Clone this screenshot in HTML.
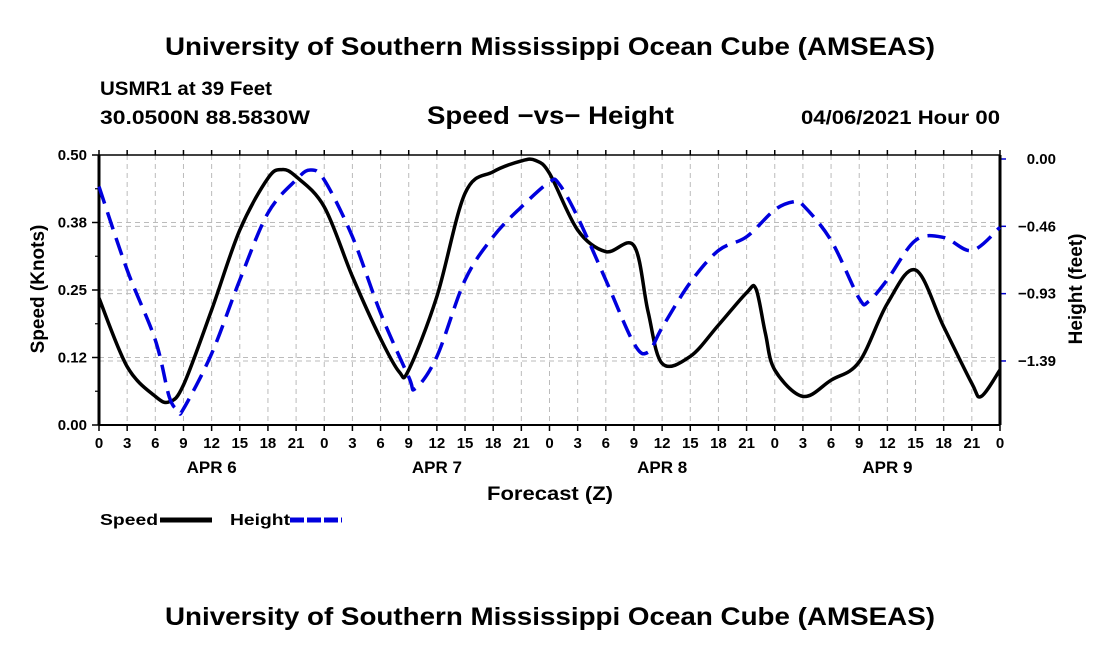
<!DOCTYPE html>
<html><head><meta charset="utf-8"><style>
body{margin:0;background:#fff;}
svg{display:block;font-family:"Liberation Sans",Arial,sans-serif;font-weight:bold;}
</style></head><body>
<svg id="c" width="1100" height="650" viewBox="0 0 1100 650">
<text x="165" y="55" font-size="25" textLength="770" lengthAdjust="spacingAndGlyphs">University of Southern Mississippi Ocean Cube (AMSEAS)</text>
<text x="100" y="95" font-size="19" textLength="172" lengthAdjust="spacingAndGlyphs">USMR1 at 39 Feet</text>
<text x="100" y="124" font-size="19" textLength="210" lengthAdjust="spacingAndGlyphs">30.0500N  88.5830W</text>
<text x="427" y="124" font-size="25" textLength="247" lengthAdjust="spacingAndGlyphs">Speed −vs− Height</text>
<text x="801" y="124" font-size="19" textLength="199" lengthAdjust="spacingAndGlyphs">04/06/2021 Hour 00</text>
<g id="grid"></g><g id="axes"></g><g id="series"></g>
<text x="487" y="500" font-size="19" textLength="126" lengthAdjust="spacingAndGlyphs">Forecast (Z)</text>
<text transform="translate(44,289) rotate(-90)" text-anchor="middle" font-size="19">Speed (Knots)</text>
<text transform="translate(1082,289) rotate(-90)" text-anchor="middle" font-size="19">Height (feet)</text>
<g><text x="100" y="525" font-size="16" textLength="58" lengthAdjust="spacingAndGlyphs">Speed</text><line x1="160" y1="520" x2="212" y2="520" stroke="#000" stroke-width="5"/></g>
<g><text x="230" y="525" font-size="16" textLength="60" lengthAdjust="spacingAndGlyphs">Height</text><line x1="290" y1="520" x2="342" y2="520" stroke="#0000dd" stroke-width="5" stroke-dasharray="14,3"/></g>
<text x="165" y="625" font-size="25" textLength="770" lengthAdjust="spacingAndGlyphs">University of Southern Mississippi Ocean Cube (AMSEAS)</text>
</svg>
<script>
const speedHours=[0,3,6,7.5,9,12,15,18,19.5,21,24,27,30,32,33,36,39,42,45,46.5,48,51,54,57,58.5,60,63,66,69,70,71,72,75,78,81,84,87,90,93,94,96];
const speedVals=[.235,.108,.053,.043,.074,.213,.361,.457,.473,.46,.404,.275,.16,.098,.102,.238,.429,.469,.489,.49,.466,.361,.321,.332,.21,.114,.127,.185,.245,.252,.17,.102,.053,.083,.117,.225,.287,.182,.077,.053,.102];
const heightHours=[0,3,6,7.5,8.5,9,12,15,18,21,22.5,24,27,30,33,33.7,36,39,42,45,48,49,51,54,57,58.5,60,63,66,69,72,74,75,78,81,82,84,87,90,93,96];
const heightVals=[-.19,-.764,-1.246,-1.64,-1.73,-1.72,-1.34,-.833,-.372,-.144,-.076,-.144,-.535,-1.06,-1.5,-1.58,-1.36,-.833,-.535,-.33,-.158,-.17,-.4,-.833,-1.27,-1.33,-1.16,-.85,-.63,-.535,-.35,-.294,-.317,-.56,-.96,-.98,-.83,-.56,-.54,-.63,-.47];
const leftTicks=["0.00","0.12","0.25","0.38","0.50"];
const leftTickVals=[0,.125,.25,.375,.5];
const rightTicks=["0.00","−0.46","−0.93","−1.39"];
const rightTickVals=[0,-.4633,-.9267,-1.39];
const hourLabels=["0","3","6","9","12","15","18","21"];
const dayLabels=["APR 6","APR 7","APR 8","APR 9"];
const X0=99,X1=1000,YT=155,YB=425;
const xs=h=>X0+(X1-X0)*h/96;
const ys=v=>YB-(YB-YT)*v/0.5;
const yh=h=>159-145.3*h;
const NS="http://www.w3.org/2000/svg";
function mk(t,a,p){const e=document.createElementNS(NS,t);for(const k in a)e.setAttribute(k,a[k]);p.appendChild(e);return e;}
const grid=document.getElementById('grid'),axes=document.getElementById('axes'),ser=document.getElementById('series');
for(let i=0;i<=32;i++){const x=xs(i*3);
 if(i>0&&i<32){const g=mk('line',{x1:x,y1:YT,x2:x,y2:YB,stroke:'#bbb','stroke-width':1,'stroke-dasharray':'5,4'},grid);
 
 }
 mk('line',{x1:x,y1:YB,x2:x,y2:YB+6,stroke:'#000','stroke-width':1.5},axes);
 mk('line',{x1:x,y1:YT,x2:x,y2:YT-5,stroke:'#000','stroke-width':1.5},axes);
 const t=mk('text',{x:x,y:448,'text-anchor':'middle','font-size':15},axes);t.textContent=hourLabels[i%8];
 
 
}
dayLabels.forEach((d,i)=>{const t=mk('text',{x:xs(i*24+12),y:473,'text-anchor':'middle','font-size':17},axes);t.textContent=d;
 
 });
leftTickVals.forEach((v,i)=>{const y=ys(v);
 if(i>0&&i<4)mk('line',{x1:X0,y1:y,x2:X1,y2:y,stroke:'#bbb','stroke-width':1,'stroke-dasharray':'5,4'},grid);
 mk('line',{x1:X0-7,y1:y,x2:X0,y2:y,stroke:'#000','stroke-width':1.5},axes);
 const t=mk('text',{x:X0-12,y:y+5,'text-anchor':'end','font-size':15},axes);t.textContent=leftTicks[i];
 
 });
for(let i=0;i<4;i++){const y=ys(i*.125+.0625);mk('line',{x1:X0-4,y1:y,x2:X0,y2:y,stroke:'#000','stroke-width':1.2},axes);}
rightTickVals.forEach((v,i)=>{const y=yh(v);
 if(i>0)mk('line',{x1:X0,y1:y,x2:X1,y2:y,stroke:'#bbb','stroke-width':1,'stroke-dasharray':'5,4'},grid);
 mk('line',{x1:X1,y1:y,x2:X1+6,y2:y,stroke:'#0000cc','stroke-width':1.5},axes);
 const t=mk('text',{x:1056,y:y+5,'text-anchor':'end','font-size':15},axes);t.textContent=rightTicks[i];
 
 });
mk('line',{x1:X0,y1:YT,x2:X1,y2:YT,stroke:'#000','stroke-width':1.5},axes);
mk('line',{x1:X0,y1:YB,x2:X1,y2:YB,stroke:'#000','stroke-width':2},axes);
mk('line',{x1:X0,y1:YT,x2:X0,y2:YB,stroke:'#000','stroke-width':3},axes);
mk('line',{x1:X1,y1:YT,x2:X1,y2:YB,stroke:'#000','stroke-width':3},axes);
function path(hs,vs,fy){const p=hs.map((h,i)=>[xs(h),fy(vs[i])]);let d='M'+p[0][0]+','+p[0][1];
 for(let i=0;i<p.length-1;i++){const a=p[Math.max(0,i-1)],b=p[i],c=p[i+1],e=p[Math.min(p.length-1,i+2)];
 const c1=[b[0]+(c[0]-a[0])/6,b[1]+(c[1]-a[1])/6],c2=[c[0]-(e[0]-b[0])/6,c[1]-(e[1]-b[1])/6];
 d+=`C${c1[0]},${c1[1]} ${c2[0]},${c2[1]} ${c[0]},${c[1]}`;}return d;}
const sp=mk('path',{d:path(speedHours,speedVals,ys),fill:'none',stroke:'#000','stroke-width':3.5},ser);


const hp=mk('path',{d:path(heightHours,heightVals,yh),fill:'none',stroke:'#0000dd','stroke-width':3.5,'stroke-dasharray':'18,9'},ser);


</script>
</body></html>
